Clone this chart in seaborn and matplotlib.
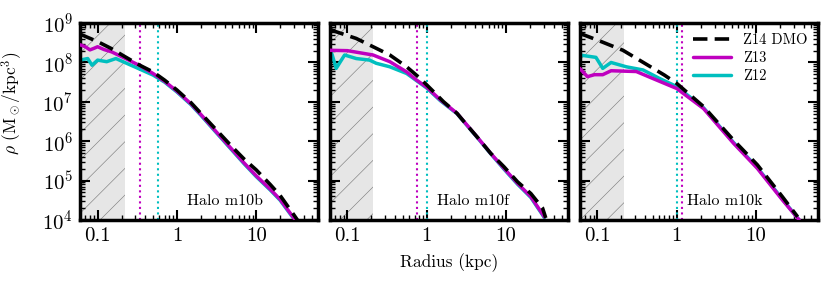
import numpy as np
import pandas as pd
import matplotlib
matplotlib.use("Agg")
import matplotlib.pyplot as plt
from matplotlib.lines import Line2D
from matplotlib.ticker import FixedLocator, FixedFormatter, NullFormatter
import seaborn as sns

# ---- data (radius in kpc, log10 rho in Msun/kpc^3) ----
halos = ["m10b", "m10f", "m10k"]

# m10b
r_dmo_b = [0.06, 0.1, 0.15, 0.22, 0.34, 0.5, 0.7, 1, 1.5, 2, 3, 5, 7, 10, 15, 20, 30, 33]
lrho_dmo_b = [8.72, 8.53, 8.35, 8.15, 7.93, 7.76, 7.55, 7.30, 6.98, 6.71, 6.33, 5.85, 5.55, 5.27, 4.90, 4.62, 4.12, 4.0]
r_z13_b = [0.06, 0.07, 0.08, 0.09, 0.1, 0.12, 0.15, 0.22, 0.34, 0.5, 0.7, 1, 1.5, 2, 3, 5, 7, 10, 15, 20, 28, 31]
lrho_z13_b = [8.45, 8.40, 8.32, 8.36, 8.40, 8.33, 8.27, 8.11, 7.92, 7.72, 7.52, 7.27, 6.95, 6.68, 6.28, 5.78, 5.45, 5.12, 4.78, 4.52, 4.12, 4.0]
r_z12_b = [0.06, 0.075, 0.085, 0.1, 0.13, 0.17, 0.22, 0.3, 0.5, 0.7, 1, 1.5, 2, 3, 5, 7, 10, 15, 20, 28, 31]
lrho_z12_b = [8.06, 8.10, 7.93, 8.06, 8.02, 8.10, 8.00, 7.88, 7.68, 7.50, 7.25, 6.93, 6.66, 6.26, 5.76, 5.43, 5.10, 4.76, 4.50, 4.10, 4.0]

# m10f
r_dmo_f = [0.06, 0.072, 0.129, 0.21, 0.342, 0.557, 0.82, 1.16, 1.63, 2.4, 3.2, 4.3, 6.4, 9.4, 13.9, 20.5, 28.8, 31.6]
lrho_dmo_f = [8.84, 8.78, 8.61, 8.40, 8.19, 7.89, 7.60, 7.30, 7.00, 6.71, 6.41, 6.11, 5.69, 5.35, 4.97, 4.67, 4.30, 4.05]
r_z13_f = [0.06, 0.1, 0.21, 0.342, 0.557, 0.746, 1.0, 1.48, 2.4, 4.3, 6.4, 9.4, 13.9, 20.5, 30.3]
lrho_z13_f = [8.31, 8.30, 8.19, 8.02, 7.76, 7.55, 7.37, 7.05, 6.71, 6.11, 5.69, 5.31, 4.93, 4.59, 4.08]
r_z12_f = [0.06, 0.064, 0.072, 0.092, 0.129, 0.19, 0.23, 0.342, 0.557, 1.0, 1.48, 2.4, 4.3, 6.4, 9.4, 13.9, 20.5, 30.3]
lrho_z12_f = [8.32, 8.20, 7.85, 8.19, 8.10, 8.06, 7.98, 7.89, 7.72, 7.35, 7.03, 6.70, 6.10, 5.68, 5.29, 4.91, 4.57, 4.06]

# m10k
r_dmo_k = [0.06, 0.1, 0.21, 0.395, 0.70, 1.0, 2.18, 5.2, 10.4, 21.5, 33.5]
lrho_dmo_k = [8.74, 8.57, 8.31, 7.98, 7.68, 7.47, 6.88, 6.03, 5.40, 4.59, 4.08]
r_z13_k = [0.06, 0.075, 0.092, 0.117, 0.149, 0.31, 0.505, 1.0, 2.18, 5.2, 10.4, 21.5, 35]
lrho_z13_k = [7.85, 7.64, 7.69, 7.69, 7.79, 7.77, 7.59, 7.34, 6.83, 5.95, 5.31, 4.51, 4.0]
r_z12_k = [0.06, 0.096, 0.117, 0.149, 0.232, 0.377, 0.614, 1.0, 2.18, 5.2, 10.4, 21.5, 35]
lrho_z12_k = [8.19, 8.13, 7.85, 8.00, 7.89, 7.81, 7.59, 7.39, 6.85, 5.97, 5.33, 4.53, 4.0]

# resolution limits (kpc)
r_shade = [0.22, 0.21, 0.215]
r_conv_z13 = [0.34, 0.75, 1.17]
r_conv_z12 = [0.575, 1.0, 1.02]

profiles = [
    (r_dmo_b, lrho_dmo_b, r_z13_b, lrho_z13_b, r_z12_b, lrho_z12_b),
    (r_dmo_f, lrho_dmo_f, r_z13_f, lrho_z13_f, r_z12_f, lrho_z12_f),
    (r_dmo_k, lrho_dmo_k, r_z13_k, lrho_z13_k, r_z12_k, lrho_z12_k),
]

c_z13 = (0.75, 0, 0.75)
c_z12 = (0, 0.75, 0.75)
dash = (0, (4, 2))

# tick positions
x_major = [0.1, 1, 10]
x_minor = [m * 10.0 ** e for e in range(-2, 2) for m in range(2, 10)]
y_major = [10.0 ** e for e in range(4, 10)]
y_minor = [m * 10.0 ** e for e in range(4, 9) for m in range(2, 10)]

# render at dpi 80 so the hatch spacing matches; k rescales point sizes
DPI = 80
k = 100 / DPI

sns.set_style("ticks")
plt.rcParams["font.family"] = ["cmr10", "DejaVu Serif"]
plt.rcParams["mathtext.fontset"] = "cm"
plt.rcParams["axes.formatter.use_mathtext"] = True
plt.rcParams["hatch.linewidth"] = 0.45 * k
plt.rcParams["hatch.color"] = "0.5"
plt.rcParams["text.color"] = "k"
plt.rcParams["axes.labelcolor"] = "k"
plt.rcParams["xtick.color"] = "k"
plt.rcParams["ytick.color"] = "k"
plt.rcParams["axes.edgecolor"] = "k"

fig, axes = plt.subplots(1, 3, figsize=(831 / DPI, 289 / DPI), dpi=DPI)
fig.subplots_adjust(left=0.0963, right=0.984, bottom=0.239, top=0.92, wspace=0.05)

for i, ax in enumerate(axes):
    r_d, l_d, r_13, l_13, r_12, l_12 = profiles[i]
    ax.axvspan(0.01, r_shade[i], facecolor="0.9", edgecolor="0.5", hatch="/", lw=0, zorder=0)
    sns.lineplot(x=r_12, y=10 ** np.array(l_12), color=c_z12, lw=2.5 * k, sort=False,
                 estimator=None, ax=ax, zorder=2)
    sns.lineplot(x=r_13, y=10 ** np.array(l_13), color=c_z13, lw=2.5 * k, sort=False,
                 estimator=None, ax=ax, zorder=3)
    sns.lineplot(x=r_d, y=10 ** np.array(l_d), color="k", lw=2.6 * k, sort=False,
                 estimator=None, ax=ax, zorder=4, linestyle=dash)
    ax.axvline(r_conv_z13[i], color=c_z13, ls=":", lw=1.5 * k, zorder=1)
    ax.axvline(r_conv_z12[i], color=c_z12, ls=":", lw=1.5 * k, zorder=1)

    ax.set_xscale("log")
    ax.set_yscale("log")
    ax.xaxis.set_major_locator(FixedLocator(x_major))
    ax.xaxis.set_major_formatter(FixedFormatter(["0.1", "1", "10"]))
    ax.xaxis.set_minor_locator(FixedLocator(x_minor))
    ax.xaxis.set_minor_formatter(NullFormatter())
    ax.yaxis.set_major_locator(FixedLocator(y_major))
    ax.yaxis.set_minor_locator(FixedLocator(y_minor))
    ax.yaxis.set_minor_formatter(NullFormatter())
    ax.set_xlim(0.06, 60)
    ax.set_ylim(1e4, 1e9)
    if i > 0:
        ax.tick_params(labelleft=False)
    ax.tick_params(which="both", direction="in", top=True, right=True, labelsize=15 * k)
    ax.tick_params(which="major", length=7 * k, width=1.5 * k, pad=5 * k)
    ax.tick_params(which="minor", length=3.5 * k, width=1 * k)
    for sp in ax.spines.values():
        sp.set_linewidth(2.5 * k)
        sp.set_color("k")
    ax.set_xlabel("")
    ax.set_ylabel("")
    ax.text(0.45, 0.06, "Halo " + halos[i], transform=ax.transAxes, fontsize=11.5 * k,
            ha="left", va="bottom")

axes[0].set_ylabel(r"$\rho$ (M$_\odot$/kpc$^3$)", fontsize=12.5 * k)
axes[0].yaxis.set_label_coords(-0.235, 0.59)
axes[1].set_xlabel("Radius (kpc)", fontsize=12.5 * k, labelpad=6 * k)

handles = [
    Line2D([], [], color="k", lw=2.6 * k, linestyle=dash),
    Line2D([], [], color=c_z13, lw=2.5 * k),
    Line2D([], [], color=c_z12, lw=2.5 * k),
]
axes[2].legend(handles, ["Z14 DMO", "Z13", "Z12"], loc="upper right", frameon=False,
               fontsize=10.5 * k, handlelength=2.6, borderaxespad=0.3, labelspacing=0.3)

fig.savefig("out.png", dpi=DPI)
